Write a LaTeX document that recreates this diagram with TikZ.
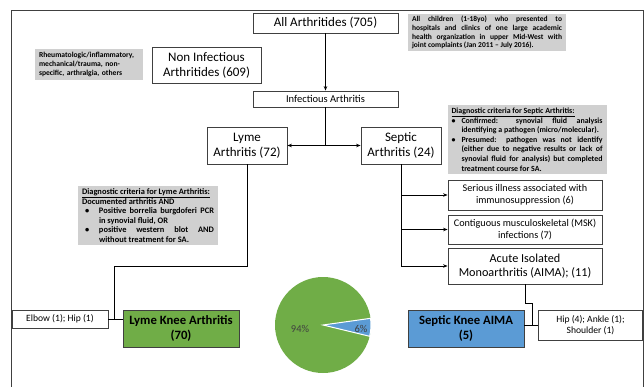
\documentclass[tikz,border=0pt]{standalone}
\usepackage{fontspec}
\setmainfont{Carlito}
\usetikzlibrary{arrows.meta,positioning}

\definecolor{lymegreen}{HTML}{70AD47}
\definecolor{septicblue}{HTML}{5B9BD5}
\definecolor{notegray}{HTML}{D0D0D0}
\definecolor{linegray}{HTML}{404040}

\tolerance=9999
\hbadness=10000
\hyphenpenalty=10000
\exhyphenpenalty=10000

% bullet line with hanging indent
\newcommand{\critem}[3][0pt]{\par\hangindent=#2\hangafter=1\noindent\makebox[#2][l]{\hspace*{#1}\textbullet}#3\par}

\begin{document}
\begin{tikzpicture}[x=1pt, y=-1pt, >={Stealth[length=4.5pt,width=3.5pt]},
  box/.style={draw=linegray, line width=0.8pt, fill=white, align=center, inner sep=1pt},
  note/.style={fill=notegray, align=justify, inner xsep=4pt, inner ysep=3pt},
  conn/.style={draw=black, line width=0.8pt},
  pielabel/.style={text=linegray, font=\fontsize{10.5}{12}\selectfont}]
\useasboundingbox (0,0) rectangle (644,386);
\draw[linegray, line width=0.8pt] (11,390) -- (11,10) -- (643,10) -- (643,390);

% top of the tree
\node[box, minimum width=145, minimum height=20, font=\fontsize{13}{15}\selectfont] (all) at (325.5,23) {All Arthritides (705)};
\node[note, text width=150, inner xsep=4pt, inner ysep=2pt, font=\bfseries\fontsize{7.5}{8.8}\selectfont] (allnote) at (487,32.5) {All children (1-18yo) who presented to\linebreak hospitals and clinics of one large academic\linebreak health organization in upper Mid-West with\linebreak joint complaints (Jan 2011 -- July 2016).};
\node[note, align=left, text width=100, font=\bfseries\fontsize{7.6}{9.4}\selectfont] (ninote) at (89,64.5) {Rheumatologic/inflammatory,\\mechanical/trauma, non-\\specific, arthralgia, others};
\node[box, minimum width=109, minimum height=36, font=\fontsize{13}{15}\selectfont] (noninf) at (206.5,65) {Non Infectious\\Arthritides (609)};
\node[box, minimum width=145, minimum height=16, font=\fontsize{10.5}{12}\selectfont] (inf) at (325.5,99) {Infectious Arthritis};

% lyme and septic
\node[box, minimum width=80, minimum height=37, font=\fontsize{13}{15}\selectfont] (lyme) at (247,145.5) {Lyme\\Arthritis (72)};
\node[box, minimum width=80, minimum height=37, font=\fontsize{13}{15}\selectfont] (septic) at (401,145.5) {Septic\\Arthritis (24)};
\node[note, text width=151, inner ysep=2.5pt, font=\bfseries\fontsize{7.9}{9.6}\selectfont] (sanote) at (527,139.5) {\underline{Diagnostic criteria for Septic Arthritis:}\par
  \critem{10pt}{Confirmed: synovial fluid analysis\linebreak identifying a pathogen (micro/molecular).}
  \critem{10pt}{Presumed: pathogen was not identify\linebreak (either due to negative results or lack of\linebreak synovial fluid for analysis) but completed\linebreak treatment course for SA.}};
\node[note, text width=132, font=\bfseries\fontsize{8.4}{9.6}\selectfont] (lanote) at (148,215.5) {\underline{Diagnostic criteria for Lyme Arthritis:}\par
  Documented arthritis AND\par
  \critem[3pt]{17pt}{Positive borrelia burgdoferi PCR\linebreak in synovial fluid, OR}
  \critem[3pt]{17pt}{positive western blot AND\linebreak without treatment for SA.}};

% septic branches
\node[box, minimum width=154, minimum height=30, font=\fontsize{10.2}{12}\selectfont] (serious) at (525,195) {Serious illness associated with\\immunosuppression (6)};
\node[box, minimum width=154, minimum height=29, font=\fontsize{10.2}{12}\selectfont] (contig) at (525,229.5) {Contiguous musculoskeletal (MSK)\\infections (7)};
\node[box, minimum width=154, minimum height=36, font=\fontsize{12.2}{14}\selectfont] (aima) at (525,266) {Acute Isolated\\Monoarthritis (AIMA); (11)};

% knees
\node[box, minimum width=96, minimum height=18, font=\fontsize{9.6}{11}\selectfont] (elbow) at (60,319) {Elbow (1); Hip (1)};
\node[box, fill=lymegreen, minimum width=116, minimum height=37, font=\bfseries\fontsize{12.7}{15}\selectfont] (lknee) at (181,328.5) {Lyme Knee Arthritis\\(70)};
\node[box, fill=septicblue, minimum width=116, minimum height=37, font=\bfseries\fontsize{12.7}{15}\selectfont] (sknee) at (466,328.5) {Septic Knee AIMA\\(5)};
\node[box, minimum width=104, minimum height=30, font=\fontsize{9.6}{11.5}\selectfont] (hip) at (590.5,325) {Hip (4); Ankle (1);\\Shoulder (1)};

% pie
\coordinate (pie) at (323,325);
\fill[lymegreen] (pie) circle (48);
\filldraw[fill=septicblue, draw=white, line width=1pt] (pie) -- ++(-8:48) arc[start angle=-8, end angle=13.6, radius=48] -- cycle;
\node[pielabel] (p94) at (300,329) {94\%};
\node[pielabel] (p6) at (361,329) {6\%};

% connectors
\coordinate (split) at (inf.south |- lyme.east);
\coordinate (sbot) at (septic.south |- aima.west);
\coordinate (lbend) at (114,266);
\coordinate (hj) at (532,325);
\draw[conn, ->] (all) -- (inf);
\draw[conn] (inf) -- (split);
\draw[conn, ->] (split) -- (lyme);
\draw[conn, ->] (split) -- (septic);
\draw[conn] (septic) -- (sbot);
\draw[conn, ->] (septic.south |- serious.west) -- (serious);
\draw[conn, ->] (septic.south |- contig.west) -- (contig);
\draw[conn, ->] (sbot) -- (aima);
\draw[conn] (lyme.south) |- (lbend) -- (lbend |- elbow.east);
\draw[conn] (elbow) -- (lknee.west |- elbow.east);
\draw[conn] (aima.south) -- ++(0,19) -| (hj);
\draw[conn] (sknee.east |- hip.west) -- (hip);
\end{tikzpicture}
\end{document}
